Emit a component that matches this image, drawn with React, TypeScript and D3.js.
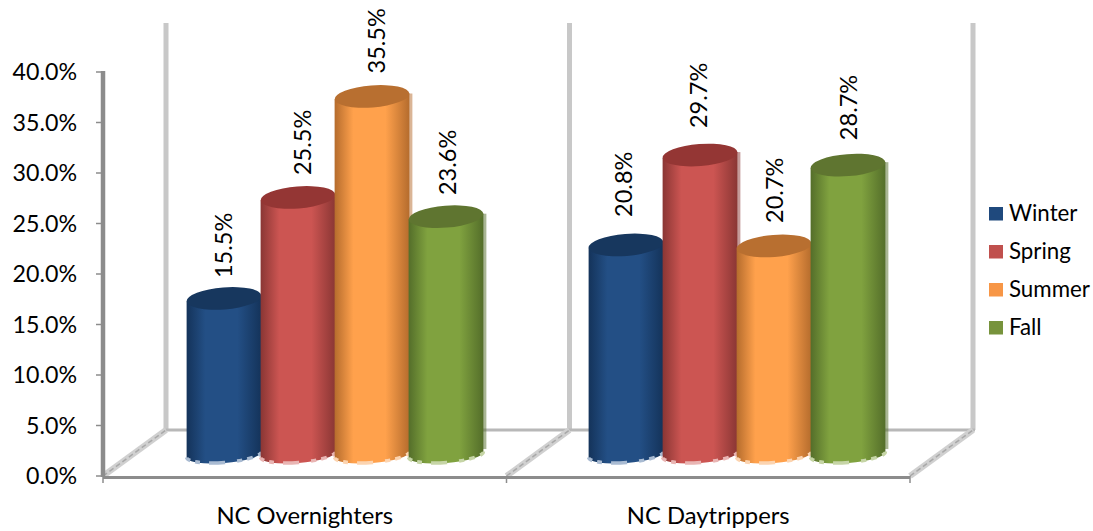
import React from "react";
import * as d3 from "d3";

// Share of visitors per season for each North Carolina traveller group.
const groups = ["NC Overnighters", "NC Daytrippers"];
const seasons = ["Winter", "Spring", "Summer", "Fall"];
const winterValues = [15.5, 20.8];
const springValues = [25.5, 29.7];
const summerValues = [35.5, 20.7];
const fallValues = [23.6, 28.7];
const yTicks = [0, 5, 10, 15, 20, 25, 30, 35, 40];

const seriesValues = [winterValues, springValues, summerValues, fallValues];
const swatchColors = ["#1f497d", "#c0504d", "#f79646", "#77933c"];
const edgeColors = ["#14335a", "#8a3634", "#b56c2d", "#546e2a"];
const midColors = ["#234f85", "#cc5552", "#ffa14c", "#80a23f"];
const capColors = ["#17375e", "#943634", "#b86f30", "#5f7530"];
const rimColors = ["#a9bbd2", "#e9b5b3", "#fcd4b0", "#c6d5a6"];

const FONT = "Lato, 'Open Sans', sans-serif";
const W = 1093;
const H = 531;

// Front plane of the box and the shifted back plane behind it.
const frontLeft = 103;
const frontBottom = 476;
const frontTop = 72;
const depthX = 63;
const depthY = 46;
const dividers = [103, 506.5, 910];

const yFront = d3.scaleLinear().domain([0, 40]).range([frontBottom, frontTop]);
const yBack = d3.scaleLinear().domain([0, 40]).range([frontBottom - depthY, frontTop - depthY - 3]);
const yBar = d3.scaleLinear().domain([0, 40]).range([455, 51]);
const xFront = d3.scaleBand<string>().domain(groups).range([dividers[0], dividers[2]]);
const xBarGroup = d3.scaleBand<string>().domain(groups).range([134, 938]);
const xSeason = d3.scaleBand<string>().domain(seasons).range([0, 296]);

const tiltDeg = -4.5;
const tilt = (tiltDeg * Math.PI) / 180;
const capRy = 11;
const baseRy = 8;

// Perspective offsets of the rotated labels, per group and season.
const labelShiftX = [
  [0, 5, 5, 2],
  [-2, -1, 1, 1],
];
const labelShiftY = [
  [2.6, 0.6, 0, 1.4],
  [-5, -4, 0, -2],
];

const barCenter = (g: string, s: string) =>
  (xBarGroup(g) as number) +
  xBarGroup.bandwidth() / 2 -
  148 +
  (xSeason(s) as number) +
  xSeason.bandwidth() / 2;

function Cylinder({ cx, value, i, rx }: { cx: number; value: number; i: number; rx: number }) {
  const top = yBar(value);
  const base = yBar(0);
  const dx = rx * Math.cos(tilt);
  const dy = rx * Math.sin(tilt);
  const lx = cx - dx;
  const rxp = cx + dx;
  const body =
    `M${lx},${top - dy}L${rxp},${top + dy}L${rxp},${base + dy}` +
    `A${rx},${baseRy} ${tiltDeg} 0 1 ${lx},${base - dy}Z`;
  const rim = `M${rxp},${base + dy}A${rx},${baseRy} ${tiltDeg} 0 1 ${lx},${base - dy}`;
  return (
    <g>
      <rect x={rxp - 2} y={top + dy} width={5} height={base - top - 3} fill={edgeColors[i]} opacity={0.5} />
      <path d={body} fill={`url(#cyl-${i})`} />
      <path d={rim} fill="none" stroke={rimColors[i]} strokeWidth={3.5} strokeDasharray="5 6 6 5 5 12 16 9 5 5" transform="translate(0,-0.5)" />
      <ellipse cx={cx} cy={top} rx={rx} ry={capRy} fill={capColors[i]} transform={`rotate(${tiltDeg} ${cx} ${top})`} />
    </g>
  );
}

export default function App() {
  const rx = xSeason.bandwidth() / 2 + 0.5;
  const backX = dividers.map((d) => d + depthX);
  return (
    <svg
      width={W}
      height={H}
      viewBox={`0 0 ${W} ${H}`}
      style={{ position: "absolute", left: 0, top: 0, background: "#fff" }}
      fontFamily={FONT}
    >
      <defs>
        {seasons.map((s, i) => (
          <linearGradient key={s} id={`cyl-${i}`} x1="0" x2="1" y1="0" y2="0">
            <stop offset="0" stopColor={edgeColors[i]} />
            <stop offset="0.25" stopColor={midColors[i]} />
            <stop offset="0.68" stopColor={midColors[i]} />
            <stop offset="1" stopColor={edgeColors[i]} />
          </linearGradient>
        ))}
      </defs>

      {/* Back wall uprights, floor edges and depth diagonals */}
      <g fill="none">
        {backX.map((x) => (
          <line key={x} x1={x} x2={x} y1={yBack(40)} y2={yBack(0)} strokeWidth={5} stroke="#c8c8c8" />
        ))}
        <line x1={backX[0]} x2={backX[2] + 2} y1={yBack(0)} y2={yBack(0)} strokeWidth={3} stroke="#b8b8b8" />
        {dividers.map((x, i) => (
          <g key={x}>
            <line x1={x} x2={backX[i]} y1={frontBottom} y2={yBack(0)} strokeWidth={6} stroke="#d0d0d0" />
            <line x1={x} x2={backX[i]} y1={frontBottom} y2={yBack(0)} strokeWidth={1.5} stroke="#a8a8a8" strokeDasharray="5 3" />
          </g>
        ))}
      </g>

      {/* Value axis */}
      <g stroke="#8c8c8c" fill="none">
        <line x1={frontLeft} x2={frontLeft} y1={yFront(40) - 1} y2={frontBottom + 1} strokeWidth={4.5} />
        <line x1={frontLeft} x2={dividers[2]} y1={frontBottom + 1.5} y2={frontBottom + 1.5} strokeWidth={3} />
        {yTicks.map((t) => (
          <line key={t} x1={frontLeft - 7} x2={frontLeft} y1={yFront(t)} y2={yFront(t)} strokeWidth={1.5} />
        ))}
        {dividers.map((x) => (
          <line key={x} x1={x} x2={x} y1={frontBottom} y2={frontBottom + 7} strokeWidth={1.5} />
        ))}
      </g>
      <g fontSize={23.2} fill="#000" textAnchor="end">
        {yTicks.map((t) => (
          <text key={t} x={77} y={yFront(t) + 8}>{`${t.toFixed(1)}%`}</text>
        ))}
      </g>

      {/* Cylinders, one group per traveller type */}
      {groups.map((g, gi) =>
        seasons.map((s, i) => (
          <Cylinder key={g + s} cx={barCenter(g, s)} value={seriesValues[i][gi]} i={i} rx={rx} />
        ))
      )}

      {/* Rotated value labels above each cylinder */}
      <g fontSize={23.5} fill="#000">
        {groups.map((g, gi) =>
          seasons.map((s, i) => {
            const v = seriesValues[i][gi];
            const lx = barCenter(g, s) + labelShiftX[gi][i] + 8;
            const ly = yBar(v) - capRy - 12 + labelShiftY[gi][i];
            return (
              <text key={g + s} transform={`translate(${lx},${ly}) rotate(-90)`}>
                {`${v.toFixed(1)}%`}
              </text>
            );
          })
        )}
      </g>

      {/* Category labels */}
      <g fontSize={23.8} fill="#000" textAnchor="middle">
        {groups.map((g) => (
          <text key={g} x={(xFront(g) as number) + xFront.bandwidth() / 2} y={524}>
            {g}
          </text>
        ))}
      </g>

      {/* Legend */}
      <g>
        {seasons.map((s, i) => (
          <g key={s} transform={`translate(989,${207 + i * 38})`}>
            <rect width={14} height={13.5} fill={swatchColors[i]} />
            <text x={20} y={14} fontSize={22.3} fill="#000">
              {s}
            </text>
          </g>
        ))}
      </g>
    </svg>
  );
}
